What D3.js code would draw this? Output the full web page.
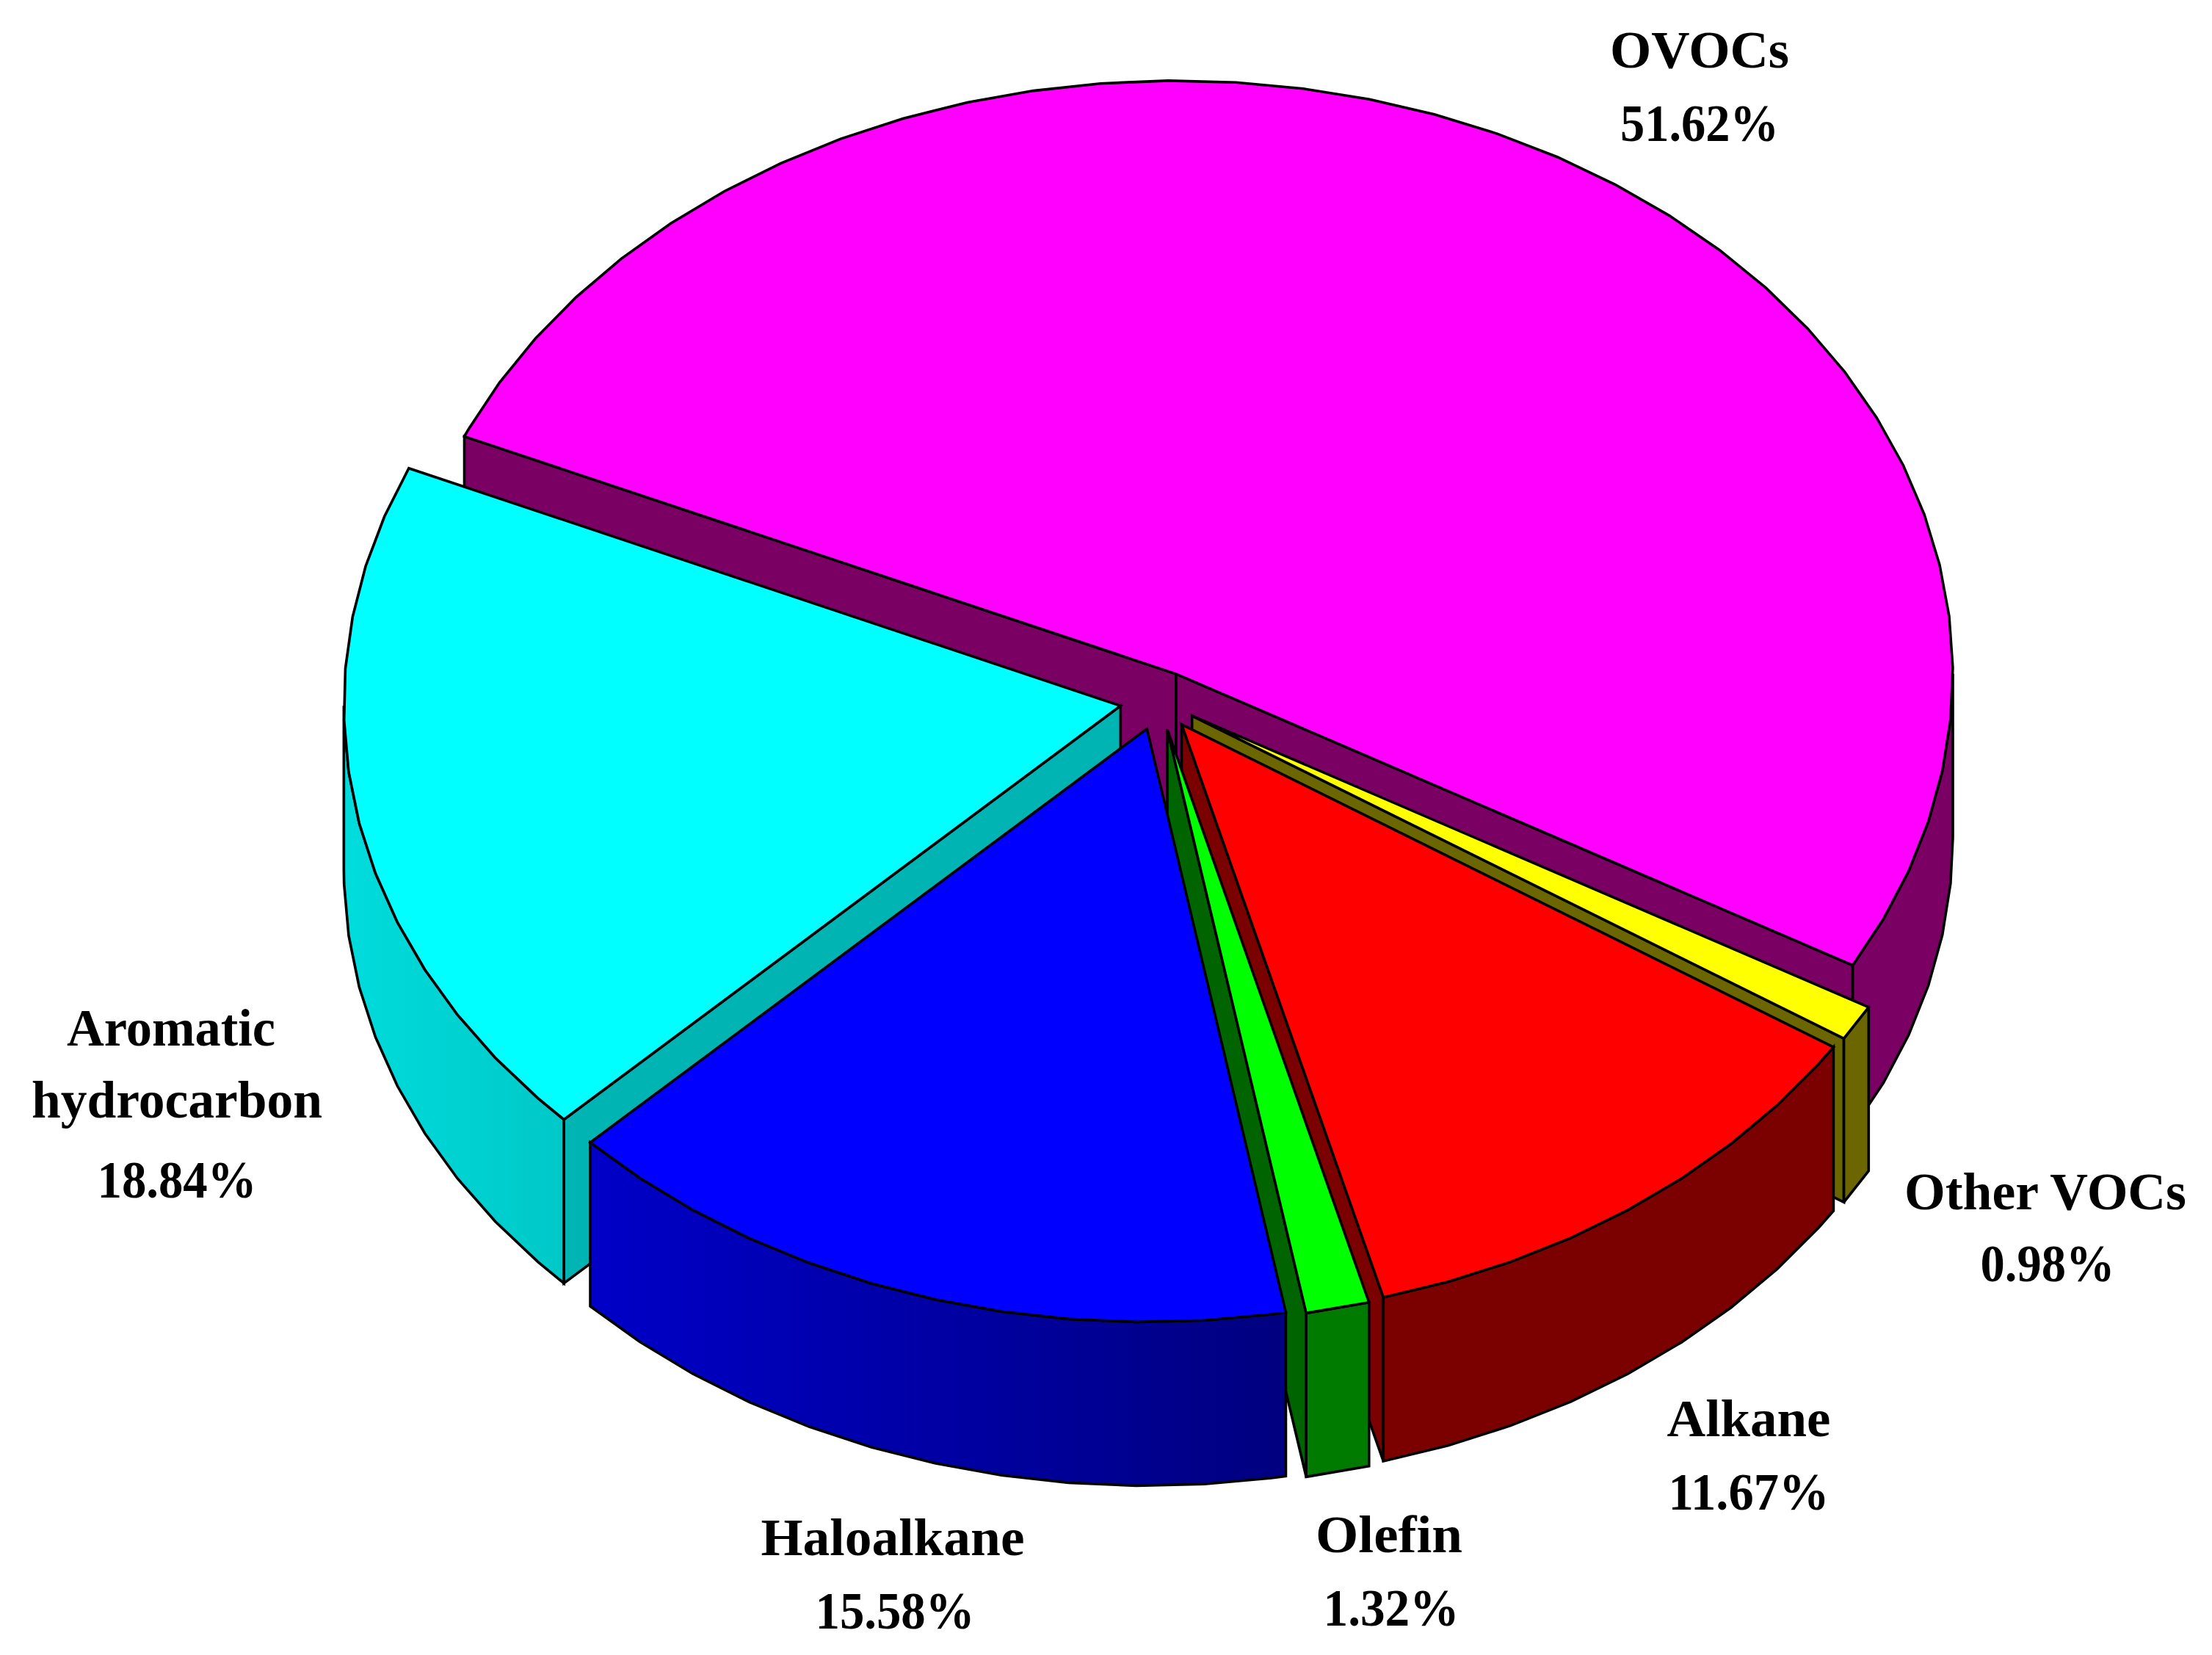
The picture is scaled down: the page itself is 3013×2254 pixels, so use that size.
<!DOCTYPE html>
<html><head><meta charset="utf-8">
<script src="https://cdn.jsdelivr.net/npm/d3@7/dist/d3.min.js"></script>
<style>html,body{margin:0;padding:0;background:#fff}svg{display:block}</style>
</head><body><svg id="c" width="3013" height="2254"></svg>
<script>
const categories = ["OVOCs","Other VOCs","Alkane","Olefin","Haloalkane","Aromatic hydrocarbon"];
const shares = [51.62,0.98,11.67,1.32,15.58,18.84];
const topColors = ["#ff00ff","#ffff00","#ff0000","#00ff00","#0000ff","#00ffff"];
const cutColors = ["#7b0063","#6b6600","#7b0000","#006400","#000080","#00b4b4"];
const rimLeft  = ["#7b0063","#6b6600","#7b0000","#007b00","#0000c8","#00dcdc"];
const rimRight = ["#7b0063","#6b6600","#7b0000","#007b00","#000080","#00c8c8"];
const labelLines = [
 ["OVOCs",2315,92,244],["51.62%",2315,192,216],
 ["Other VOCs",2786,1647,384],["0.98%",2789,1745,183],
 ["Alkane",2382,1956,223],["11.67%",2382,2056,219],
 ["Olefin",1892,2114,200],["1.32%",1895,2214,185],
 ["Haloalkane",1216,2118,359],["15.58%",1219,2218,217],
 ["Aromatic",233,1424,284],["hydrocarbon",241,1522,396],["18.84%",241,1631,217]
];
const W=3013,H=2254,cx=1578.4,cy=954,rx=1058,ry=808,depth=223,explode=0.05,startDeg=-66.4,stepDeg=5;
const svg=d3.select("#c");
const rad=d=>d*Math.PI/180;
const xS=d3.scaleLinear().domain([-1,1]).range([cx-rx,cx+rx]);
const yS=d3.scaleLinear().domain([-1,1]).range([cy+ry,cy-ry]);
const pie=d3.pie().sort(null).value(d=>d).startAngle(rad(startDeg)).endAngle(rad(startDeg+360));
const arcs=pie(shares);
const line=d3.line().x(d=>d[0]).y(d=>d[1]);
const closed=p=>line(p)+"Z";
const defs=svg.append("defs");
const pt=(t,m,z)=>[xS(Math.sin(t)+explode*Math.sin(m)),yS(Math.cos(t)+explode*Math.cos(m))+z];
const apex=(m,z)=>[xS(explode*Math.sin(m)),yS(explode*Math.cos(m))+z];
// facet vertices walk back from the slice's end angle in fixed steps
function facets(a,b,lo,hi){
  const s=rad(stepDeg),v=[];
  for(let t=b-s;t>a+1e-6;t-=s) v.push(t);
  return [a,b,lo,hi].concat(v).filter(t=>t>=lo-1e-9&&t<=hi+1e-9).sort(d3.ascending)
    .filter((t,i,arr)=>i===0||t-arr[i-1]>1e-6);
}
const order=[0,1,2,3,5,4];
const style=s=>s.attr("stroke","#000").attr("stroke-width",3.6).attr("stroke-linejoin","miter").attr("stroke-miterlimit",3);
order.forEach(i=>{
  const d=arcs[i],a=d.startAngle,b=d.endAngle,m=(a+b)/2;
  const g=svg.append("g").attr("data-cat",categories[i]);
  [[a,Math.sin(a)<0],[b,Math.sin(b)>0]].forEach(([e,vis])=>{
    if(!vis)return;
    const p=pt(e,m,0),q=apex(m,0);
    g.append("path").attr("d",closed([q,p,[p[0],p[1]+depth],[q[0],q[1]+depth]])).attr("fill",cutColors[i]).call(style);
  });
  const ra=Math.max(a,rad(90)),rb=Math.min(b,rad(270));
  if(rb>ra){
    const top=facets(a,b,ra,rb).map(t=>pt(t,m,0)),bot=top.map(p=>[p[0],p[1]+depth]).reverse();
    const id="rim"+i,xs=top.map(p=>p[0]);
    const gr=defs.append("linearGradient").attr("id",id).attr("gradientUnits","userSpaceOnUse")
      .attr("x1",d3.min(xs)).attr("x2",d3.max(xs)).attr("y1",0).attr("y2",0);
    gr.append("stop").attr("offset",0).attr("stop-color",rimLeft[i]);
    gr.append("stop").attr("offset",1).attr("stop-color",rimRight[i]);
    g.append("path").attr("d",closed(top.concat(bot))).attr("fill",`url(#${id})`).call(style);
  }
  g.append("path").attr("d",closed([apex(m,0)].concat(facets(a,b,a,b).map(t=>pt(t,m,0))))).attr("fill",topColors[i]).call(style);
});
svg.append("g").selectAll("text").data(labelLines).join("text")
  .attr("x",d=>d[1]).attr("y",d=>d[2]).attr("text-anchor","middle")
  .attr("textLength",d=>d[3]).attr("lengthAdjust","spacingAndGlyphs")
  .attr("font-family","'Liberation Serif',serif").attr("font-weight","bold").attr("font-size",72)
  .text(d=>d[0]);
</script></body></html>
